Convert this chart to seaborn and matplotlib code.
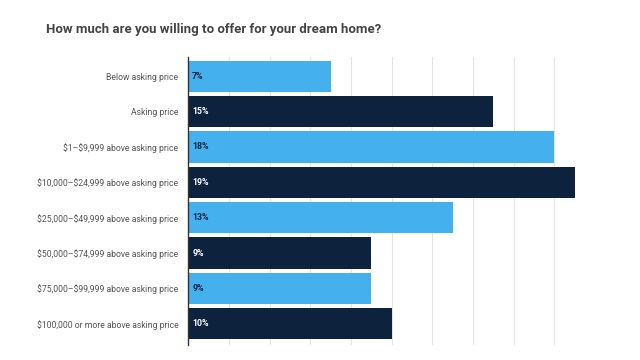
import seaborn as sns
import matplotlib.pyplot as plt
import pandas as pd

# Data
categories = ["Below asking price", "Asking price", "$1\u2013$9,999 above asking price",
              "$10,000\u2013$24,999 above asking price", "$25,000\u2013$49,999 above asking price",
              "$50,000\u2013$74,999 above asking price", "$75,000\u2013$99,999 above asking price",
              "$100,000 or more above asking price"]
shares = [7, 15, 18, 19, 13, 9, 9, 10]
groups = ["light", "dark", "light", "dark", "light", "dark", "light", "dark"]

df = pd.DataFrame({"category": categories, "share": shares, "group": groups})

light_blue = "#45B0EE"
navy = "#0C223D"

sns.set_style("white")
plt.rcParams['font.family'] = ['Roboto', 'DejaVu Sans']

fig = plt.figure(figsize=(6.4, 3.6), dpi=100)
ax = fig.add_axes([0.294, 0.042, 0.636, 0.800])

sns.barplot(data=df, x="share", y="category", hue="group",
            palette={"light": light_blue, "dark": navy}, dodge=False, saturation=1,
            width=0.88, legend=False, ax=ax, edgecolor="none")

ax.set_xlim(0, 20)
ax.set_ylim(7.6, -0.55)
ax.set_xticks(range(0, 21, 2))
ax.xaxis.grid(True, color="#E4E4E4", linewidth=0.8)
ax.set_axisbelow(True)
ax.tick_params(axis="x", length=0, labelbottom=False)
ax.tick_params(axis="y", length=0, pad=7, labelsize=6.2, labelcolor="#555555")
ax.set_xlabel("")
ax.set_ylabel("")
for lab in ax.get_yticklabels():
    lab.set_parse_math(False)
for s in ["top", "right", "bottom"]:
    ax.spines[s].set_visible(False)
ax.spines["left"].set_color("#333333")
ax.spines["left"].set_linewidth(1.0)

# value labels inside the bars
for i, (v, g) in enumerate(zip(shares, groups)):
    ax.text(0.2, i, f"{v}%", va="center", ha="left", fontsize=6.3, fontweight="bold",
            color=navy if g == "light" else "white")

fig.text(46 / 640, 1 - 30 / 360, "How much are you willing to offer for your dream home?",
         fontsize=9.5, fontweight="bold", color="#444444", va="center", ha="left")

plt.savefig("out.png", dpi=100)
plt.close()
